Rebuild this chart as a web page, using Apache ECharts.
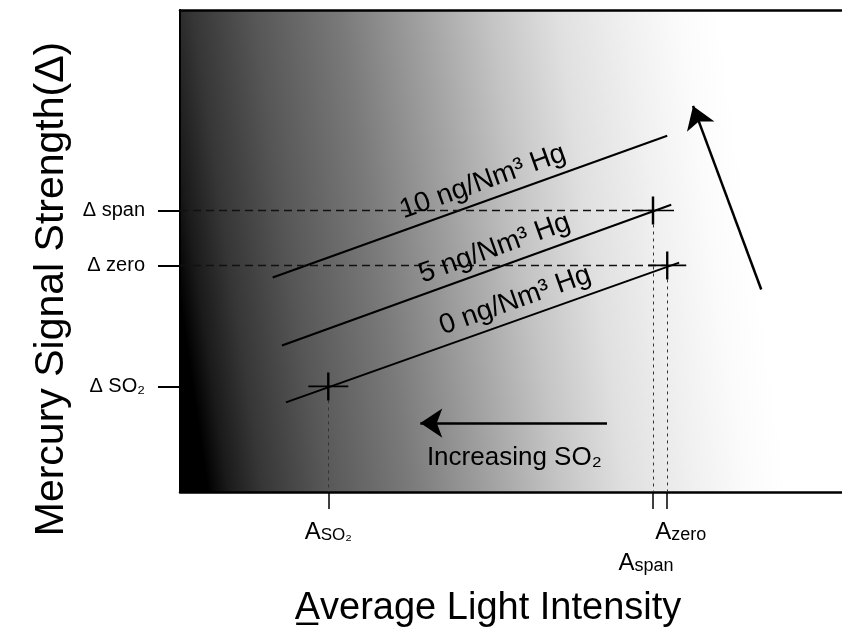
<!DOCTYPE html>
<html>
<head>
<meta charset="utf-8">
<script src="https://cdn.jsdelivr.net/npm/echarts@6/dist/echarts.min.js"></script>
<style>
html, body { margin: 0; padding: 0; background: #fff; }
#main { width: 842px; height: 633px; }
</style>
</head>
<body>
<div id="main"></div>
<script>
// schematic: both axes are unitless, 0..100
var lineNames = ['10 ng/Nm³ Hg', '5 ng/Nm³ Hg', '0 ng/Nm³ Hg'];
var lineStartX = [14.0, 15.4, 16.0];
var lineStartY = [44.5, 30.4, 18.6];
var lineEndX = [73.6, 74.2, 75.4];
var lineEndY = [73.9, 59.6, 47.6];

var yTickValues = [58.4, 47.0, 21.9];
var yTickNames = ['span', 'zero', 'SO₂'];
var xTickValues = [22.4, 71.45, 73.6];
var xTickNames = ['SO₂', 'span', 'zero'];

// calibration points where the lines are read
var crossX = [71.45, 73.6, 22.4];
var crossY = [58.4, 47.0, 21.9];

var arrowFrom = [[64.5, 14.3], [87.8, 42.0]];
var arrowTo = [[36.3, 14.3], [77.5, 80.1]];
var noteText = 'Increasing SO₂';
var notePos = [50.5, 7.0];

var FONT = 'Liberation Sans, Arial, sans-serif';
var labelShift = [41, 52, 83];
var crossSizes = [[42, 28], [38, 28], [40, 28]];

function xLabel(value) {
	var i = xTickValues.indexOf(value);
	if (i === 0) return '{A|A}{t|' + xTickNames[0] + '}';
	if (i === 1) return '{gap| }\n{A|A}{s|' + xTickNames[1] + '}{r| }';
	return '{l| }{A|A}{s|' + xTickNames[2] + '}';
}
function yLabel(value) {
	var i = yTickValues.indexOf(value);
	return 'Δ ' + yTickNames[i];
}

var xRich = {
	A: { fontSize: 24, fontFamily: FONT, color: '#000' },
	s: { fontSize: 18, fontFamily: FONT, color: '#000', verticalAlign: 'bottom' },
	t: { fontSize: 17, fontFamily: FONT, color: '#000', verticalAlign: 'bottom' },
	gap: { fontSize: 10, lineHeight: 31 },
	l: { width: 27 },
	r: { width: 14 }
};

var chart = echarts.init(document.getElementById('main'));

var series = [];
// the three Hg lines, labelled along their slope
for (var i = 0; i < lineNames.length; i++) {
	series.push({
		type: 'line',
		data: [],
		silent: true,
		markLine: {
			silent: true,
			symbol: ['none', 'none'],
			lineStyle: { color: '#000', width: 2, type: 'solid' },
			label: {
				show: true,
				position: 'insideMiddleTop',
				distance: 5,
				formatter: lineNames[i],
				color: '#000',
				fontFamily: FONT,
				fontSize: 28,
				padding: [0, 0, 0, labelShift[i]]
			},
			data: [[{ coord: [lineStartX[i], lineStartY[i]] }, { coord: [lineEndX[i], lineEndY[i]] }]]
		}
	});
}

// dashed guides from the calibration points to the axes
var guides = [];
for (var j = 0; j < 2; j++) {
	guides.push([{ coord: [0, crossY[j]], lineStyle: { type: [8, 5], width: 1.3, color: '#111' } }, { coord: [crossX[j], crossY[j]] }]);
}
for (var k = 0; k < crossX.length; k++) {
	guides.push([{ coord: [crossX[k], crossY[k]], lineStyle: { type: [3, 4], width: 1, color: '#333' } }, { coord: [crossX[k], 0] }]);
}
series.push({
	type: 'line',
	data: [],
	markLine: { silent: true, symbol: ['none', 'none'], label: { show: false }, data: guides }
});

series.push({
	type: 'scatter',
	silent: true,
	symbol: 'path://M0,5L10,5M5,0L5,10',
	itemStyle: { color: '#000', borderColor: '#000', borderWidth: 2, opacity: 1 },
	data: crossX.map(function (x, n) {
		return { value: [x, crossY[n]], symbolSize: crossSizes[n] };
	}),
	z: 5
});

series.push({
	type: 'line',
	data: [],
	markLine: {
		silent: true,
		symbol: ['none', 'arrow'],
		symbolSize: 22,
		label: { show: false },
		lineStyle: { color: '#000', width: 2.5, type: 'solid' },
		itemStyle: { color: '#000' },
		data: arrowFrom.map(function (f, n) {
			return [{ coord: f }, { coord: arrowTo[n] }];
		})
	}
});

series.push({
	type: 'scatter',
	silent: true,
	symbolSize: 1,
	itemStyle: { opacity: 0 },
	data: [notePos],
	label: {
		show: true,
		position: 'inside',
		formatter: noteText,
		color: '#000',
		opacity: 1,
		fontFamily: FONT,
		fontSize: 26
	}
});

chart.setOption({
	animation: false,
	backgroundColor: '#fff',
	textStyle: { fontFamily: FONT, color: '#000' },
	grid: {
		left: 180, right: 0, top: 10, bottom: 140,
		show: true,
		borderWidth: 0,
		backgroundColor: new echarts.graphic.LinearGradient(0, 0.6, 1, 0.4, [
			{ offset: 0, color: '#000' },
			{ offset: 0.03, color: '#1a1a1a' },
			{ offset: 0.08, color: '#363636' },
			{ offset: 0.17, color: '#565656' },
			{ offset: 0.3, color: '#7a7a7a' },
			{ offset: 0.42, color: '#a2a2a2' },
			{ offset: 0.52, color: '#c4c4c4' },
			{ offset: 0.62, color: '#e0e0e0' },
			{ offset: 0.72, color: '#f0f0f0' },
			{ offset: 0.8, color: '#fbfbfb' },
			{ offset: 0.86, color: '#fff' }
		])
	},
	xAxis: [{
		type: 'value',
		min: 0, max: 100,
		position: 'bottom',
		splitLine: { show: false },
		axisLine: { lineStyle: { color: '#000', width: 2.5 } },
		axisTick: { customValues: xTickValues.slice(0, 2), length: 17, lineStyle: { color: '#000', width: 1.5 } },
		axisLabel: {
			customValues: xTickValues.slice(0, 2),
			formatter: xLabel,
			hideOverlap: false,
			margin: 28,
			color: '#000',
			rich: xRich
		},
		name: 'A\u0332verage Light Intensity',
		nameLocation: 'middle',
		nameGap: 98,
		nameTextStyle: { fontSize: 38, color: '#000', fontFamily: FONT, padding: [0, 46, 0, 0] }
	}, {
		type: 'value',
		min: 0, max: 100,
		position: 'top',
		splitLine: { show: false },
		axisLine: { lineStyle: { color: '#000', width: 2.5 } },
		axisTick: { show: false },
		axisLabel: { show: false }
	}, {
		// second bottom axis only carries the A zero tick, so it is not dropped as overlapping
		type: 'value',
		min: 0, max: 100,
		position: 'bottom',
		splitLine: { show: false },
		axisLine: { show: false },
		axisTick: { show: true, customValues: xTickValues.slice(2), length: 17, lineStyle: { color: '#000', width: 1.5 } },
		axisLabel: {
			customValues: xTickValues.slice(2),
			formatter: xLabel,
			margin: 28,
			color: '#000',
			rich: xRich
		}
	}],
	yAxis: {
		type: 'value',
		min: 0, max: 100,
		splitLine: { show: false },
		axisLine: { show: true, lineStyle: { color: '#000', width: 2 } },
		axisTick: { show: true, customValues: yTickValues, length: 22, lineStyle: { color: '#000', width: 2 } },
		axisLabel: { customValues: yTickValues, formatter: yLabel, margin: 35, fontSize: 20, color: '#000', fontFamily: FONT },
		name: 'Mercury Signal Strength(Δ)',
		nameLocation: 'middle',
		nameRotate: 90,
		nameGap: 105,
		nameTextStyle: { fontSize: 41, color: '#000', fontFamily: FONT, padding: [0, 76, 0, 0] }
	},
	series: series
});
</script>
</body>
</html>
